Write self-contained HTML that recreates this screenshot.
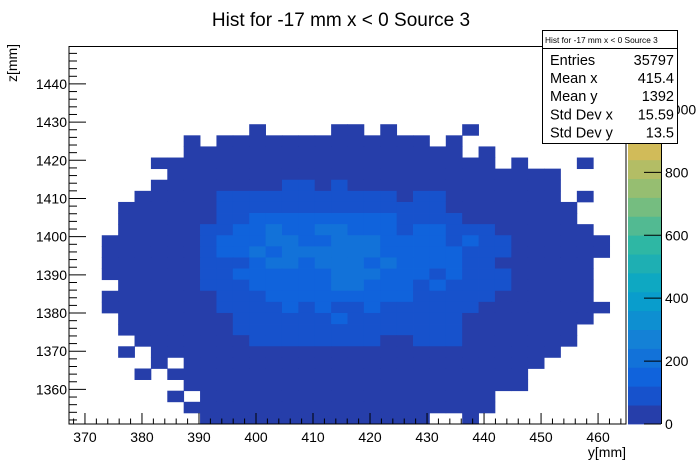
<!DOCTYPE html>
<html><head><meta charset="utf-8"><style>
html,body{margin:0;padding:0;background:#fff;}
svg{display:block;font-family:"Liberation Sans",sans-serif;}
</style></head><body>
<svg id="chart" width="696" height="472" viewBox="0 0 696 472" xmlns="http://www.w3.org/2000/svg">
<rect x="0" y="0" width="696" height="472" fill="#fff"/>
<text x="341" y="26" font-size="19" text-anchor="middle">Hist for -17 mm x &lt; 0 Source 3</text>
<g id="cells"></g>
<g id="cbar"></g>
<rect x="69" y="46.5" width="557" height="377.5" fill="none" stroke="#000" stroke-width="1"/>
<g id="xaxis"></g>
<g id="yaxis"></g>
<text x="626" y="457" font-size="14" text-anchor="end">y[mm]</text>
<text transform="translate(17,63) rotate(-90)" font-size="14" text-anchor="middle">z[mm]</text>
<g>
<rect x="542.5" y="30.5" width="135" height="113" fill="#fff" stroke="#000" stroke-width="1"/>
<line x1="542.5" y1="48.5" x2="677.5" y2="48.5" stroke="#000" stroke-width="1"/>
<text x="545" y="43" font-size="8.3">Hist for -17 mm x &lt; 0 Source 3</text>
<text x="550" y="65" font-size="14.5">Entries</text>
<text x="674" y="65" font-size="14.5" text-anchor="end">35797</text>
<text x="550" y="83" font-size="14.5">Mean x</text>
<text x="674" y="83" font-size="14.5" text-anchor="end">415.4</text>
<text x="550" y="101" font-size="14.5">Mean y</text>
<text x="674" y="101" font-size="14.5" text-anchor="end">1392</text>
<text x="550" y="119.5" font-size="14.5">Std Dev x</text>
<text x="674" y="119.5" font-size="14.5" text-anchor="end">15.59</text>
<text x="550" y="137.5" font-size="14.5">Std Dev y</text>
<text x="674" y="137.5" font-size="14.5" text-anchor="end">13.5</text>
</g>
</svg>
<script>
const xRange = [367.2, 464.9];
const yRange = [1350.94, 1449.8];
const zRange = [0, 1200];
const nContours = 20;
const xTickLabels = [370, 380, 390, 400, 410, 420, 430, 440, 450, 460];
const yTickLabels = [1360, 1370, 1380, 1390, 1400, 1410, 1420, 1430, 1440];
const zTickLabels = [0, 200, 400, 600, 800, 1000];
// counts[row] from top (high z) to bottom, 34 x-bins each
const counts = [
[0,0,0,0,0,0,0,0,0,0,0,0,0,0,0,0,0,0,0,0,0,0,0,0,0,0,0,0,0,0,0,0,0,0],
[0,0,0,0,0,0,0,0,0,0,0,0,0,0,0,0,0,0,0,0,0,0,0,0,0,0,0,0,0,0,0,0,0,0],
[0,0,0,0,0,0,0,0,0,0,0,0,0,0,0,0,0,0,0,0,0,0,0,0,0,0,0,0,0,0,0,0,0,0],
[0,0,0,0,0,0,0,0,0,0,0,0,0,0,0,0,0,0,0,0,0,0,0,0,0,0,0,0,0,0,0,0,0,0],
[0,0,0,0,0,0,0,0,0,0,0,0,0,0,0,0,0,0,0,0,0,0,0,0,0,0,0,0,0,0,0,0,0,0],
[0,0,0,0,0,0,0,0,0,0,0,0,0,0,0,0,0,0,0,0,0,0,0,0,0,0,0,0,0,0,0,0,0,0],
[0,0,0,0,0,0,0,0,0,0,0,0,0,0,0,0,0,0,0,0,0,0,0,0,0,0,0,0,0,0,0,0,0,0],
[0,0,0,0,0,0,0,0,0,0,0,30,0,0,0,0,30,30,0,30,0,0,0,0,30,0,0,0,0,0,0,0,0,0],
[0,0,0,0,0,0,0,30,0,30,30,30,30,30,30,30,30,30,30,30,30,30,0,30,0,0,0,0,0,0,0,0,0,0],
[0,0,0,0,0,0,0,30,30,30,30,30,30,30,30,30,30,30,30,30,30,30,30,30,0,30,0,0,0,0,0,0,0,0],
[0,0,0,0,0,30,30,30,30,30,30,30,30,30,30,30,30,30,30,30,30,30,30,30,30,30,0,30,0,0,0,30,0,0],
[0,0,0,0,0,0,30,30,30,30,30,30,30,30,30,30,30,30,30,30,30,30,30,30,30,30,30,30,30,30,0,0,0,0],
[0,0,0,0,0,30,30,30,30,30,30,30,30,90,90,30,90,30,30,30,30,30,30,30,30,30,30,30,30,30,0,0,0,0],
[0,0,0,0,30,30,30,30,30,90,90,90,90,90,90,90,90,90,90,90,30,90,90,30,30,30,30,30,30,30,0,30,0,0],
[0,0,0,30,30,30,30,30,30,90,90,90,90,90,90,90,90,90,90,90,90,90,90,30,30,30,30,30,30,30,30,0,0,0],
[0,0,0,30,30,30,30,30,30,90,90,150,150,150,150,150,150,150,150,150,90,90,90,90,30,30,30,30,30,30,30,0,0,0],
[0,0,0,30,30,30,30,30,90,90,150,150,200,150,150,200,200,150,150,150,90,150,150,90,90,90,30,30,30,30,30,30,0,0],
[0,0,30,30,30,30,30,30,90,150,150,150,200,200,150,150,200,200,200,150,150,150,150,90,150,90,90,30,30,30,30,30,30,0],
[0,0,30,30,30,30,30,30,90,150,150,200,150,200,200,200,200,200,200,150,150,150,150,150,90,90,90,30,30,30,30,30,30,0],
[0,0,30,30,30,30,30,30,90,90,90,150,200,200,150,200,200,200,150,200,150,150,150,150,90,90,30,30,30,30,30,30,0,0],
[0,0,30,30,30,30,30,30,90,90,150,150,150,150,150,150,200,200,200,150,150,150,90,150,90,90,90,30,30,30,30,30,0,0],
[0,0,0,30,30,30,30,30,90,90,90,150,150,150,150,150,200,200,150,150,150,90,150,90,90,90,90,30,30,30,30,30,0,0],
[0,0,30,30,30,30,30,30,30,90,90,90,150,150,150,150,150,150,150,150,150,90,90,90,90,90,30,30,30,30,30,30,0,0],
[0,0,30,30,30,30,30,30,30,90,90,90,90,150,90,150,90,90,150,90,90,90,90,90,90,30,30,30,30,30,30,30,30,0],
[0,0,0,30,30,30,30,30,30,30,90,90,90,90,90,90,150,90,90,90,90,90,90,90,30,30,30,30,30,30,30,30,0,0],
[0,0,0,30,30,30,30,30,30,30,90,90,90,90,90,90,90,90,90,90,90,90,90,90,30,30,30,30,30,30,30,0,0,0],
[0,0,0,0,30,30,30,30,30,30,30,90,90,90,90,90,90,90,90,30,30,90,90,90,30,30,30,30,30,30,30,0,0,0],
[0,0,0,30,0,30,30,30,30,30,30,30,30,30,30,30,30,30,30,30,30,30,30,30,30,30,30,30,30,30,0,0,0,0],
[0,0,0,0,0,30,0,30,30,30,30,30,30,30,30,30,30,30,30,30,30,30,30,30,30,30,30,30,30,0,0,0,0,0],
[0,0,0,0,30,0,30,30,30,30,30,30,30,30,30,30,30,30,30,30,30,30,30,30,30,30,30,30,0,0,0,0,0,0],
[0,0,0,0,0,0,0,30,30,30,30,30,30,30,30,30,30,30,30,30,30,30,30,30,30,30,30,30,0,0,0,0,0,0],
[0,0,0,0,0,0,30,0,30,30,30,30,30,30,30,30,30,30,30,30,30,30,30,30,30,30,0,0,0,0,0,0,0,0],
[0,0,0,0,0,0,0,30,30,30,30,30,30,30,30,30,30,30,30,30,30,30,30,30,30,30,0,0,0,0,0,0,0,0],
[0,0,0,0,0,0,0,0,30,30,30,30,30,30,30,30,30,30,30,30,30,30,0,0,30,0,0,0,0,0,0,0,0,0]
];

const NS = "http://www.w3.org/2000/svg";
const PL = 69, PR = 626, PT = 46.5, PB = 424;
function xScale(v){ return PL + (v - xRange[0]) / (xRange[1] - xRange[0]) * (PR - PL); }
function yScale(v){ return PB - (v - yRange[0]) / (yRange[1] - yRange[0]) * (PB - PT); }
function zScale(v){ return PB - (v - zRange[0]) / (zRange[1] - zRange[0]) * (PB - PT); }
const bird = [[0.2082,0.1664,0.5293],[0.0592,0.3599,0.8684],[0.0780,0.5041,0.8385],[0.0232,0.6419,0.7914],[0.1802,0.7178,0.6425],[0.5301,0.7492,0.4662],[0.8186,0.7328,0.3499],[0.9956,0.7862,0.1968],[0.9764,0.9832,0.0539]];
function birdColor(t){
  t = Math.max(0, Math.min(1, t));
  const p = t * 8, i = Math.min(7, Math.floor(p)), f = p - i;
  const c = bird[i].map((a, k) => Math.round(255 * (a + (bird[i+1][k] - a) * f)));
  return "rgb(" + c.join(",") + ")";
}
function bandColor(band){ return birdColor((band + 1) / nContours); }
function zColor(z){
  const step = (zRange[1] - zRange[0]) / nContours;
  return bandColor(Math.min(nContours - 1, Math.floor((z - zRange[0]) / step)));
}
function mk(tag, attrs, parent){
  const e = document.createElementNS(NS, tag);
  for (const k in attrs) e.setAttribute(k, attrs[k]);
  parent.appendChild(e);
  return e;
}

// heatmap
const cellsG = document.getElementById("cells");
const nRows = counts.length;
const nCols = counts[0].length;
const bwx = (xRange[1] - xRange[0]) / nCols;
const bwy = (yRange[1] - yRange[0]) / nRows;
for (let r = 0; r < nRows; r++) {
  for (let c = 0; c < nCols; c++) {
    const v = counts[r][c];
    if (v <= 0) continue;
    const x0 = xRange[0] + c * bwx, x1 = x0 + bwx;
    const yHi = yRange[1] - r * bwy, yLo = yHi - bwy;
    const rc = mk("rect", {x: xScale(x0), y: yScale(yHi), width: xScale(x1) - xScale(x0) + 0.4, height: yScale(yLo) - yScale(yHi) + 0.4, fill: zColor(v)}, cellsG);
    
    
  }
}

// color bar
const cb = document.getElementById("cbar");
const CBL = 628, CBR = 661;
const zStep = (zRange[1] - zRange[0]) / nContours;
for (let i = 0; i < nContours; i++) {
  const z0 = zRange[0] + i * zStep, z1 = z0 + zStep;
  const b = mk("rect", {x: CBL, y: zScale(z1), width: CBR - CBL, height: zScale(z0) - zScale(z1) + 0.4, fill: bandColor(i)}, cb);
  
  
}
mk("line", {x1: CBR + 0.5, y1: PT, x2: CBR + 0.5, y2: PB, stroke: "#000", "stroke-width": 1}, cb);
for (const z of zTickLabels) {
  const y = zScale(z);
  mk("line", {x1: CBR, y1: y, x2: CBR - 17, y2: y, stroke: "#000", "stroke-width": 1}, cb);
  const t = mk("text", {x: 665, y: y + 5, "font-size": 14}, cb);
  t.textContent = String(z);
  
  
}

// x axis
const xa = document.getElementById("xaxis");
for (let v = 368; v <= 464; v += 2) {
  const x = xScale(v);
  const major = v % 10 === 0;
  mk("line", {x1: x, y1: PB, x2: x, y2: PB - (major ? 11 : 5.5), stroke: "#000", "stroke-width": 1}, xa);
}
for (const v of xTickLabels) {
  const t = mk("text", {x: xScale(v), y: 442, "font-size": 14, "text-anchor": "middle"}, xa);
  t.textContent = String(v);
  
  
}
// y axis
const ya = document.getElementById("yaxis");
for (let v = 1352; v <= 1448; v += 2) {
  const y = yScale(v);
  const major = v % 10 === 0;
  mk("line", {x1: PL, y1: y, x2: PL + (major ? 17 : 8), y2: y, stroke: "#000", "stroke-width": 1}, ya);
}
for (const v of yTickLabels) {
  const t = mk("text", {x: 67, y: yScale(v) + 5, "font-size": 14, "text-anchor": "end"}, ya);
  t.textContent = String(v);
  
  
}
</script>
</body></html>
